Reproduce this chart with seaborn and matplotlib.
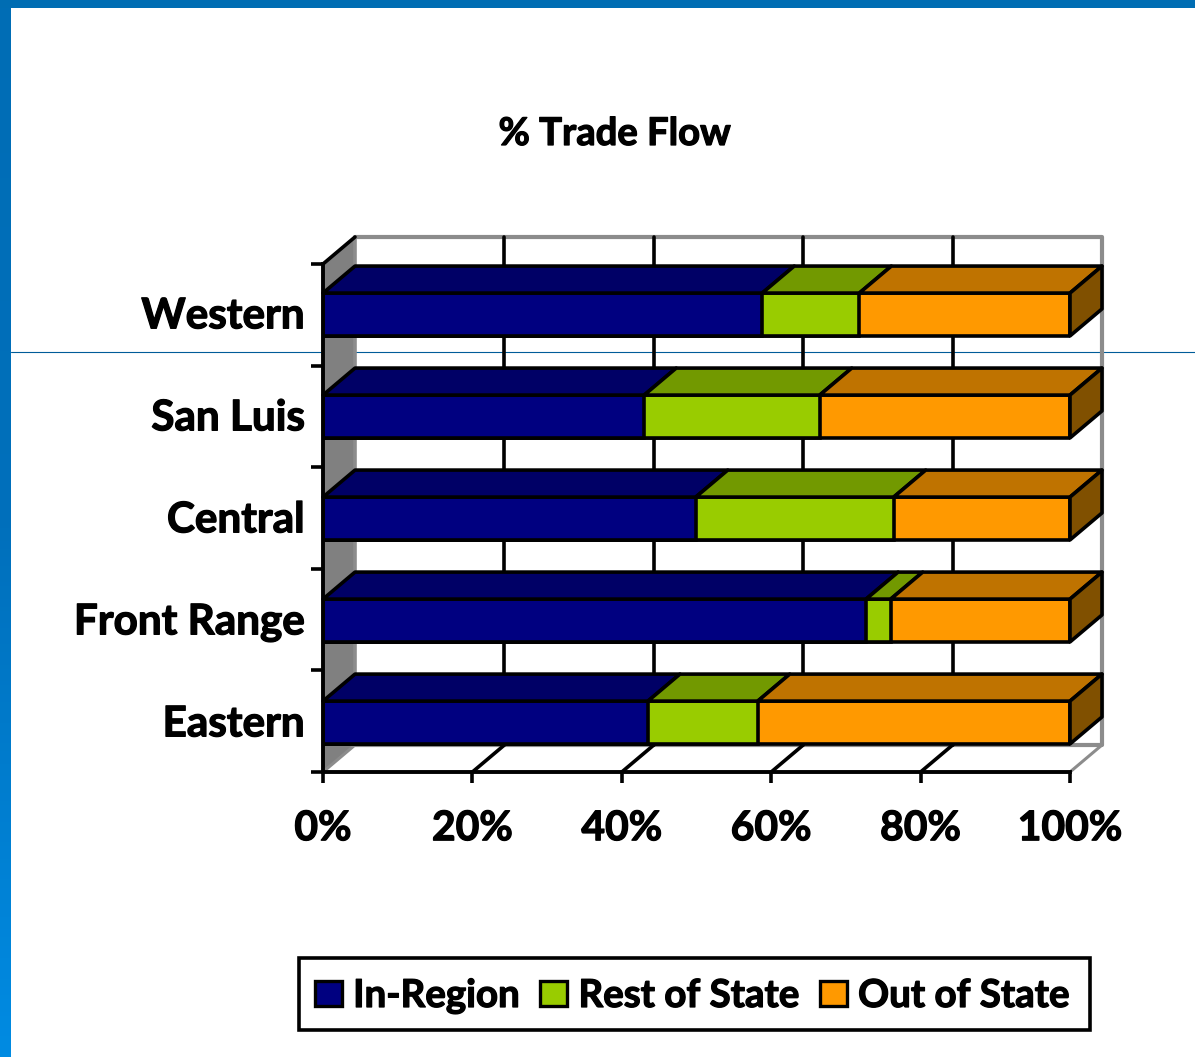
import numpy as np
import pandas as pd
import matplotlib
matplotlib.use("Agg")
import matplotlib.pyplot as plt
import matplotlib.patheffects as pe
from matplotlib.patches import Patch, Polygon, Rectangle
from matplotlib.lines import Line2D
from matplotlib.transforms import ScaledTranslation
import seaborn as sns

regions = ["Western", "San Luis", "Central", "Front Range", "Eastern"]
in_region = [58.8, 43.0, 49.9, 72.7, 43.5]
rest_of_state = [13.0, 23.5, 26.5, 3.3, 14.7]
out_of_state = [28.2, 33.5, 23.6, 24.0, 41.8]
series_names = ["In-Region", "Rest of State", "Out of State"]
x_ticks = [0, 20, 40, 60, 80, 100]
title = "% Trade Flow"

W, H = 1195, 1057
FACE = ["#000080", "#99CC00", "#FF9900"]
TOP = ["#000066", "#729900", "#BF7300"]
SIDE = "#805000"
GREY = "#8C8C8C"
LW = 2.6
HEAVY = [pe.withStroke(linewidth=0.9, foreground="black")]

sns.set_theme(style="white")
plt.rcParams["font.family"] = ["Lato", "DejaVu Sans"]
plt.rcParams["font.weight"] = "bold"

fig = plt.figure(figsize=(W / 100, H / 100), dpi=100, facecolor="white")

# slide decoration
band = fig.add_axes([0, 0, 11 / W, 1], zorder=-3)
band.imshow(np.linspace(0, 1, 256).reshape(-1, 1), aspect="auto",
            cmap=matplotlib.colors.LinearSegmentedColormap.from_list("b", ["#006DB5", "#0070BC", "#008BE2"]))
band.axis("off")
fig.add_artist(Rectangle((0, 1 - 8 / H), 1, 8 / H, transform=fig.transFigure,
                         color="#006DB3", lw=0, zorder=-2))
fig.add_artist(Line2D([11 / W, 1], [1 - 351.5 / H] * 2, transform=fig.transFigure,
                      color="#005C99", lw=0.8, zorder=-2))

ax = fig.add_axes([323 / W, (H - 772) / H, 747 / W, 508 / H], zorder=1)
ax.patch.set_alpha(0)

df = pd.DataFrame({"region": regions, "a": in_region, "b": rest_of_state, "c": out_of_state})
df["cum1"] = df["a"]
df["cum2"] = df["a"] + df["b"]
df["cum3"] = df["a"] + df["b"] + df["c"]

BAR_H = 0.42
for col, color in zip(["cum3", "cum2", "cum1"], FACE[::-1]):
    sns.barplot(data=df, x=col, y="region", order=regions, orient="h", color=color,
                width=BAR_H, saturation=1, edgecolor="black", linewidth=LW, ax=ax, zorder=3)

ax.set_xlim(0, 100)
ax.set_ylim(len(regions) - 1 + 0.485, -0.495)
ax.set_xlabel("")
ax.set_ylabel("")

# depth expressed in data units of the axes
DX = 32 / 7.47
DY = 27 / 102
y_bot, y_top = ax.get_ylim()


def poly(pts, fc, ec="black", lw=LW, z=4):
    ax.add_patch(Polygon(pts, closed=True, facecolor=fc, edgecolor=ec, lw=lw,
                         zorder=z, clip_on=False, joinstyle="round"))


def line(xs, ys, color, lw, z):
    ax.add_line(Line2D(xs, ys, color=color, lw=lw, zorder=z, clip_on=False,
                       solid_capstyle="round"))


# walls
poly([(0, y_top), (DX, y_top - DY), (DX, y_bot - DY), (0, y_bot)], "#808080", ec="none", lw=0, z=0.5)
line([DX, DX], [y_top - DY, y_bot - DY], GREY, 2.6, 0.7)
line([DX, 100 + DX, 100 + DX, DX], [y_top - DY, y_top - DY, y_bot - DY, y_bot - DY], GREY, 3.0, 0.7)
line([0, DX], [y_bot, y_bot - DY], GREY, 2.2, 0.7)
line([100, 100 + DX], [y_bot, y_bot - DY], GREY, 2.2, 0.7)
line([0, DX], [y_top, y_top - DY], "black", 2.6, 0.8)
for t in x_ticks[1:-1]:
    line([t + DX, t + DX], [y_top - DY, y_bot - DY], "black", 2.6, 0.8)
    line([t, t + DX], [y_bot, y_bot - DY], "black", 2.6, 0.8)

# 3-D faces of each stacked bar
for i, row in df.iterrows():
    top = i - BAR_H / 2
    bot = i + BAR_H / 2
    edges = [0, row["cum1"], row["cum2"], row["cum3"]]
    for k in range(3):
        a, b = edges[k], edges[k + 1]
        poly([(a, top), (b, top), (b + DX, top - DY), (a + DX, top - DY)], TOP[k])
    e = edges[-1]
    poly([(e, top), (e + DX, top - DY), (e + DX, bot - DY), (e, bot)], SIDE)

sns.despine(ax=ax, top=True, right=True)
for s in ["left", "bottom"]:
    ax.spines[s].set_color("black")
    ax.spines[s].set_linewidth(2.8)
    ax.spines[s].set_zorder(5)

ax.set_xticks(x_ticks)
ax.set_xticklabels([f"{t}%" for t in x_ticks])
ax.set_yticks(np.linspace(y_top, y_bot, len(regions) + 1))
ax.set_yticklabels([])
ax.set_yticks(range(len(regions)), minor=True)
ax.set_yticklabels(regions, minor=True)
ax.tick_params(axis="x", which="major", bottom=True, length=8, width=2.6, color="black",
               labelsize=29.4, pad=19.5, labelcolor="black")
ax.tick_params(axis="y", which="major", left=True, length=8.5, width=2.6, color="black")
ax.tick_params(axis="y", which="minor", left=False, length=0, labelsize=30.4, pad=13, labelcolor="black")
for lab in ax.get_xticklabels():
    lab.set_fontweight("bold")
    lab.set_path_effects(HEAVY)
for lab in ax.get_yticklabels(minor=True):
    lab.set_fontweight("bold")
    lab.set_path_effects(HEAVY)
    lab.set_transform(lab.get_transform() + ScaledTranslation(0, 1.2 / 72, fig.dpi_scale_trans))

t_obj = fig.text(615 / W, 1 - 134 / H, title, ha="center", va="center", fontsize=27.5,
                 fontweight="bold", color="black")
t_obj.set_path_effects(HEAVY)

# legend box, then its entries
fig.add_artist(Rectangle((299 / W, 1 - 1030 / H), 791 / W, 72 / H, transform=fig.transFigure,
                         facecolor="white", edgecolor="black", lw=2.6, zorder=2))
handles = [Patch(facecolor=c, edgecolor="black", lw=2.4, label=n) for c, n in zip(FACE, series_names)]
leg = fig.legend(handles=handles, loc="center", bbox_to_anchor=(692.5 / W, 1 - 996 / H), ncol=3,
                 frameon=False, fontsize=27.7, handlelength=0.7, handleheight=0.65, handletextpad=0.29,
                 columnspacing=0.52, borderpad=0, borderaxespad=0)
leg.set_zorder(3)
for t in leg.get_texts():
    t.set_fontweight("bold")
    t.set_color("black")
    t.set_path_effects(HEAVY)

fig.savefig("out.png", dpi=100, facecolor="white")
